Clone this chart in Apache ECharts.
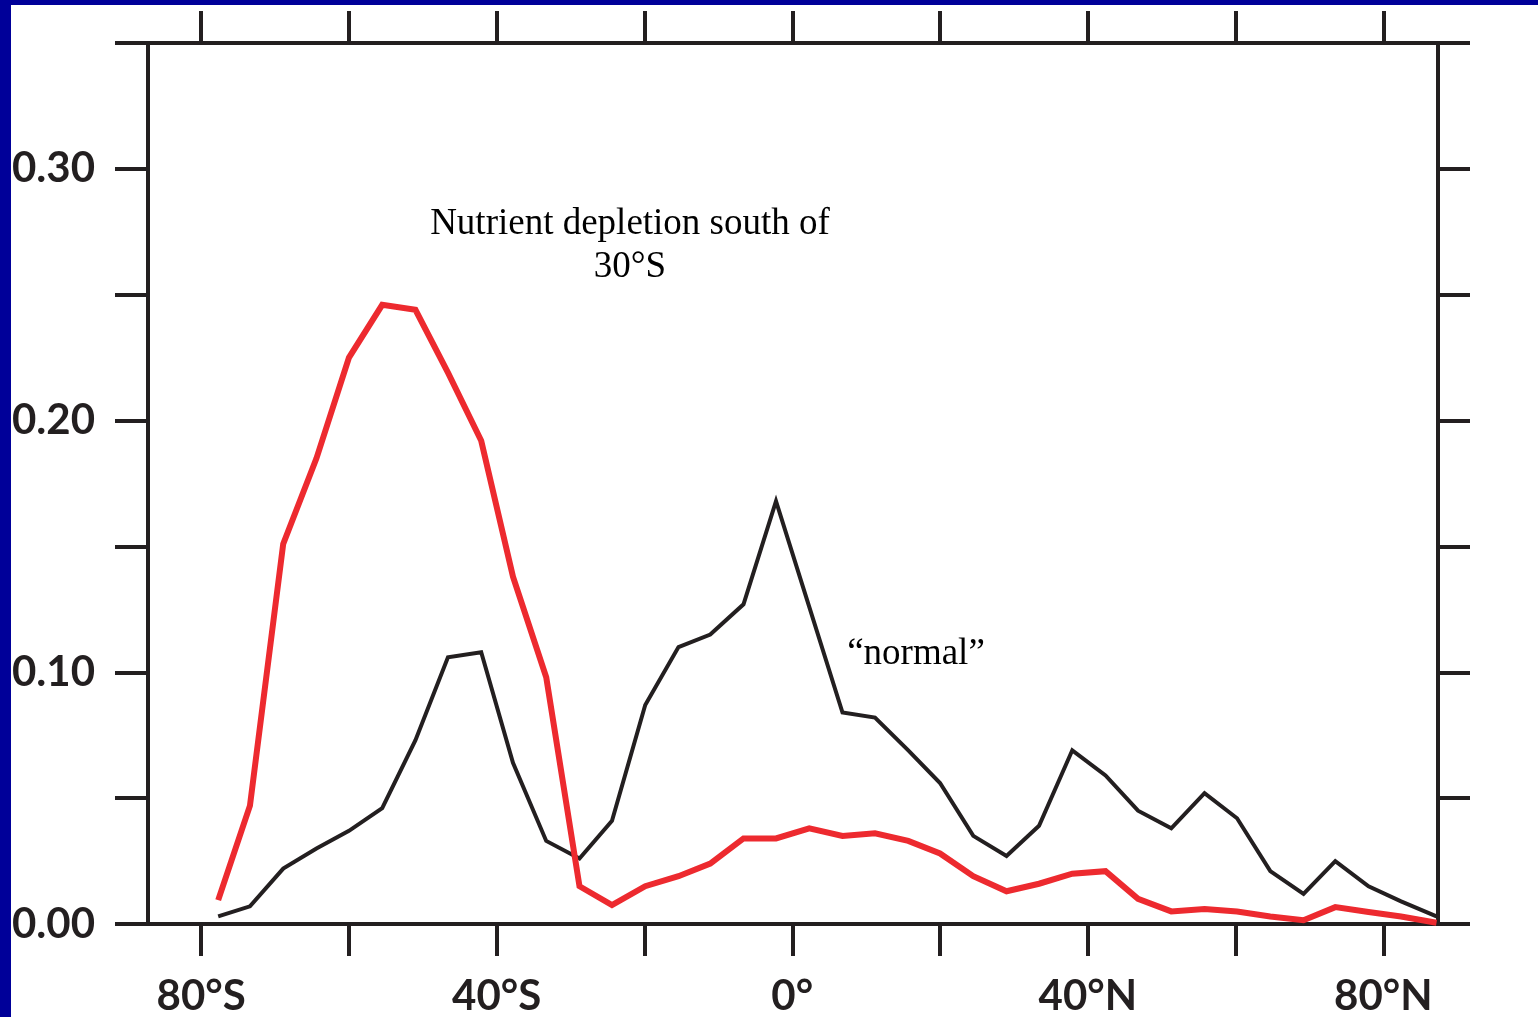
<!DOCTYPE html>
<html>
<head>
<meta charset="utf-8">
<script src="https://cdn.jsdelivr.net/npm/echarts@6/dist/echarts.min.js"></script>
<style>
html,body{margin:0;padding:0;background:#fff;}
#chart{width:1538px;height:1017px;}
</style>
</head>
<body>
<div id="chart"></div>
<script>
// Latitudes of the model grid points
const latitudes = [-77.7, -73.4, -68.9, -64.4, -60.0, -55.5, -51.0, -46.6, -42.1, -37.8,
  -33.3, -28.8, -24.4, -19.9, -15.4, -11.1, -6.6, -2.2, 2.3, 6.8,
  11.2, 15.7, 20.0, 24.5, 29.0, 33.4, 37.9, 42.4, 46.8, 51.3,
  55.8, 60.2, 64.7, 69.2, 73.5, 78.0, 82.4, 87.2];

// "normal" run (black)
const normalValues = [0.003, 0.007, 0.022, 0.030, 0.037, 0.046, 0.073, 0.106, 0.108, 0.064,
  0.033, 0.026, 0.041, 0.087, 0.110, 0.115, 0.127, 0.168, 0.126, 0.084,
  0.082, 0.069, 0.056, 0.035, 0.027, 0.039, 0.069, 0.059, 0.045, 0.038,
  0.052, 0.042, 0.021, 0.012, 0.025, 0.015, 0.009, 0.003];

// Nutrient depletion south of 30°S (red)
const depletionValues = [0.0095, 0.047, 0.151, 0.185, 0.225, 0.246, 0.244, 0.219, 0.192, 0.138,
  0.098, 0.015, 0.0075, 0.015, 0.019, 0.024, 0.034, 0.034, 0.038, 0.035,
  0.036, 0.033, 0.028, 0.019, 0.013, 0.016, 0.020, 0.021, 0.010, 0.005,
  0.006, 0.005, 0.003, 0.0015, 0.0067, 0.0048, 0.003, 0.0005];

const xTickValues = [-80, -60, -40, -20, 0, 20, 40, 60, 80];
const xLabelValues = [-80, -40, 0, 40, 80];
const xTickLabels = ['80°S', '40°S', '0°', '40°N', '80°N'];
const yLabelValues = [0, 0.1, 0.2, 0.3];
const yTickLabels = ['0.00', '0.10', '0.20', '0.30'];

const annotationMain = 'Nutrient depletion south of\n30°S';
const annotationNormal = '\u201Cnormal\u201D';

const INK = '#231f20';
const RED = '#ed2a2f';

function pairs(xs, ys) { return xs.map((x, i) => [x, ys[i]]); }

const chart = echarts.init(document.getElementById('chart'), null, {renderer: 'canvas'});

const axisFont = {fontFamily: 'Lato', fontWeight: 'bold', fontSize: 42, color: INK};

const option = {
  animation: false,
  backgroundColor: '#ffffff',
  grid: {left: 148, top: 43, right: 100, bottom: 93, containLabel: false},
  xAxis: [
    {
      type: 'value', position: 'bottom', min: -87.2, max: 87.4,
      splitLine: {show: false},
      axisLine: {show: true, onZero: false, lineStyle: {color: INK, width: 4}},
      axisTick: {show: true, inside: false, length: 32, customValues: xTickValues, lineStyle: {color: INK, width: 4}},
      axisLabel: Object.assign({
        show: true, margin: 51, customValues: xLabelValues,
        formatter: v => xTickLabels[xLabelValues.indexOf(v)]
      }, axisFont)
    },
    {
      type: 'value', position: 'top', min: -87.2, max: 87.4,
      splitLine: {show: false},
      axisLine: {show: true, onZero: false, lineStyle: {color: INK, width: 4}},
      axisTick: {show: true, inside: false, length: 32, customValues: xTickValues, lineStyle: {color: INK, width: 4}},
      axisLabel: {show: false}
    }
  ],
  yAxis: [
    {
      type: 'value', position: 'left', min: 0, max: 0.35, interval: 0.05,
      splitLine: {show: false},
      axisLine: {show: true, onZero: false, lineStyle: {color: INK, width: 4}},
      axisTick: {show: true, inside: false, length: 33, lineStyle: {color: INK, width: 4}},
      axisLabel: Object.assign({
        show: true, margin: 53, customValues: yLabelValues,
        formatter: v => {
          const i = yLabelValues.findIndex(t => Math.abs(t - v) < 1e-9);
          return i >= 0 ? yTickLabels[i] : '';
        }
      }, axisFont)
    },
    {
      type: 'value', position: 'right', min: 0, max: 0.35, interval: 0.05,
      splitLine: {show: false},
      axisLine: {show: true, onZero: false, lineStyle: {color: INK, width: 4}},
      axisTick: {show: true, inside: false, length: 32, lineStyle: {color: INK, width: 4}},
      axisLabel: {show: false}
    }
  ],
  series: [
    {
      name: 'normal', type: 'line', xAxisIndex: 0, yAxisIndex: 0,
      data: pairs(latitudes, normalValues),
      symbol: 'none', smooth: false, clip: false,
      lineStyle: {color: INK, width: 4, join: 'miter', cap: 'butt'},
      z: 3
    },
    {
      name: 'depletion', type: 'line', xAxisIndex: 0, yAxisIndex: 0,
      data: pairs(latitudes, depletionValues),
      symbol: 'none', smooth: false, clip: false,
      lineStyle: {color: RED, width: 6, join: 'miter', cap: 'butt'},
      z: 4
    }
  ],
  graphic: [
    {
      type: 'text', z: 10,
      style: {
        x: 630, y: 246, text: annotationMain, align: 'center', verticalAlign: 'middle',
        fontFamily: 'Liberation Serif', fontSize: 37, lineHeight: 43, fill: '#000'
      }
    },
    {
      type: 'text', z: 10,
      style: {
        x: 916, y: 654, text: annotationNormal, align: 'center', verticalAlign: 'middle',
        fontFamily: 'Liberation Serif', fontSize: 37, fill: '#000'
      }
    },
    {
      type: 'rect', z: 100, left: 0, top: 0,
      shape: {x: 0, y: 0, width: 11, height: 1017},
      style: {fill: '#000099'}
    },
    {
      type: 'rect', z: 100, left: 0, top: 0,
      shape: {x: 0, y: 0, width: 1538, height: 5},
      style: {fill: '#000099'}
    }
  ]
};

chart.setOption(option);
</script>
</body>
</html>
